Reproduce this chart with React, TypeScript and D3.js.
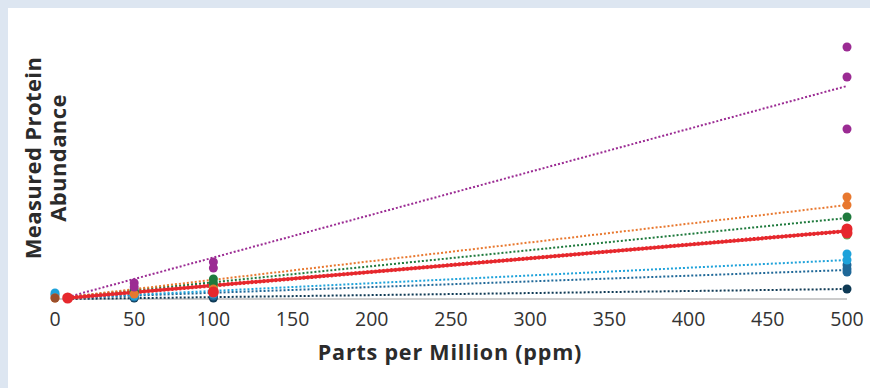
import React from "react";
import * as d3 from "d3";

const W = 870;
const H = 388;

const xTicks = [0, 50, 100, 150, 200, 250, 300, 350, 400, 450, 500];
const xLabel = "Parts per Million (ppm)";
const yLabelLines = ["Measured Protein", "Abundance"];

type Pt = [number, number];
interface Series {
  name: string;
  color: string;
  points: Pt[];
  fit: Pt[];
  solid?: boolean;
  r: number;
}

const navyPoints: Pt[] = [[50, 1], [100, 1], [500, 10]];
const navyFit: Pt[] = [[8, 0], [500, 10]];
const midBluePoints: Pt[] = [[0, 4], [50, 2], [100, 3], [500, 34], [500, 30], [500, 27]];
const midBlueFit: Pt[] = [[8, 1], [500, 29]];
const lightBluePoints: Pt[] = [[0, 6], [50, 3], [100, 5], [500, 45], [500, 39]];
const lightBlueFit: Pt[] = [[8, 1], [500, 39]];
const lightGreenPoints: Pt[] = [[50, 6], [100, 12], [500, 64]];
const darkGreenPoints: Pt[] = [[50, 9], [50, 7], [100, 20], [100, 16], [500, 82]];
const darkGreenFit: Pt[] = [[8, 2], [500, 81]];
const orangePoints: Pt[] = [[0, 1], [50, 5], [100, 10], [500, 102], [500, 94]];
const orangeFit: Pt[] = [[8, 2], [500, 94]];
const purplePoints: Pt[] = [[50, 16], [50, 12], [100, 37], [100, 31], [500, 252], [500, 222], [500, 170]];
const purpleFit: Pt[] = [[8, 2], [500, 213]];
const redPoints: Pt[] = [[8, 1], [100, 7], [500, 70], [500, 66]];
const redFit: Pt[] = [[8, 1], [500, 68]];

const series: Series[] = [
  { name: "navy", color: "#0f3a55", points: navyPoints, fit: navyFit, r: 4.5 },
  { name: "midblue", color: "#1f6898", points: midBluePoints, fit: midBlueFit, r: 4.5 },
  { name: "lightblue", color: "#1ea2da", points: lightBluePoints, fit: lightBlueFit, r: 4.5 },
  { name: "lightgreen", color: "#5cb85c", points: lightGreenPoints, fit: [], r: 4.5 },
  { name: "darkgreen", color: "#1f7a3d", points: darkGreenPoints, fit: darkGreenFit, r: 4.5 },
  { name: "orange", color: "#e8782f", points: orangePoints, fit: orangeFit, r: 4.5 },
  { name: "purple", color: "#9b2b93", points: purplePoints, fit: purpleFit, r: 4.5 },
  { name: "red", color: "#e6282d", points: redPoints, fit: redFit, solid: true, r: 5.5 },
];

const brownPoint: Pt[] = [[0, 1]];

export default function App() {
  const x = d3.scaleLinear().domain([0, 500]).range([55, 847]);
  const y = d3.scaleLinear().domain([0, 260]).range([299, 39]);
  const line = d3
    .line<Pt>()
    .x((d) => x(d[0]))
    .y((d) => y(d[1]));
  const font = "'Open Sans', sans-serif";

  return (
    <svg
      width={W}
      height={H}
      style={{ position: "absolute", left: 0, top: 0, display: "block" }}
    >
      <rect x={0} y={0} width={W} height={H} fill="#dde6f1" />
      <rect x={8} y={8} width={W - 8} height={H - 8} fill="#ffffff" />

      <line x1={x(0)} x2={x(500)} y1={y(0)} y2={y(0)} stroke="#cccccc" strokeWidth={2} />

      {series.map((s) =>
        s.fit.length ? (
          <g key={"fit-" + s.name}>
            {s.solid ? (
              <path d={line(s.fit) || ""} fill="none" stroke={s.color} strokeWidth={3} />
            ) : null}
            <path
              d={line(s.fit) || ""}
              fill="none"
              stroke={s.color}
              strokeWidth={s.solid ? 4 : 2}
              strokeDasharray="2,2"
            />
          </g>
        ) : null
      )}

      {series.map((s) => (
        <g key={"pts-" + s.name}>
          {s.points.map((p, i) => (
            <circle key={i} cx={x(p[0])} cy={y(p[1])} r={s.r} fill={s.color} />
          ))}
        </g>
      ))}
      {brownPoint.map((p, i) => (
        <circle key={"b" + i} cx={x(p[0])} cy={y(p[1])} r={4.5} fill="#9a4f2c" />
      ))}

      {xTicks.map((t) => (
        <text
          key={t}
          x={x(t)}
          y={326}
          textAnchor="middle"
          fontFamily={font}
          fontSize={19.5}
          fill="#333333"
        >
          {t}
        </text>
      ))}

      <text
        x={450}
        y={360}
        textAnchor="middle"
        fontFamily={font}
        fontSize={21.5}
        fontWeight={700}
        letterSpacing={0.8}
        fill="#2b2b2b"
      >
        {xLabel}
      </text>

      <g transform="translate(0,158) rotate(-90)">
        {yLabelLines.map((l, i) => (
          <text
            key={l}
            x={0}
            y={41 + i * 25}
            textAnchor="middle"
            fontFamily={font}
            fontSize={22}
            fontWeight={700}
            letterSpacing={0.4}
            fill="#2b2b2b"
          >
            {l}
          </text>
        ))}
      </g>
    </svg>
  );
}
